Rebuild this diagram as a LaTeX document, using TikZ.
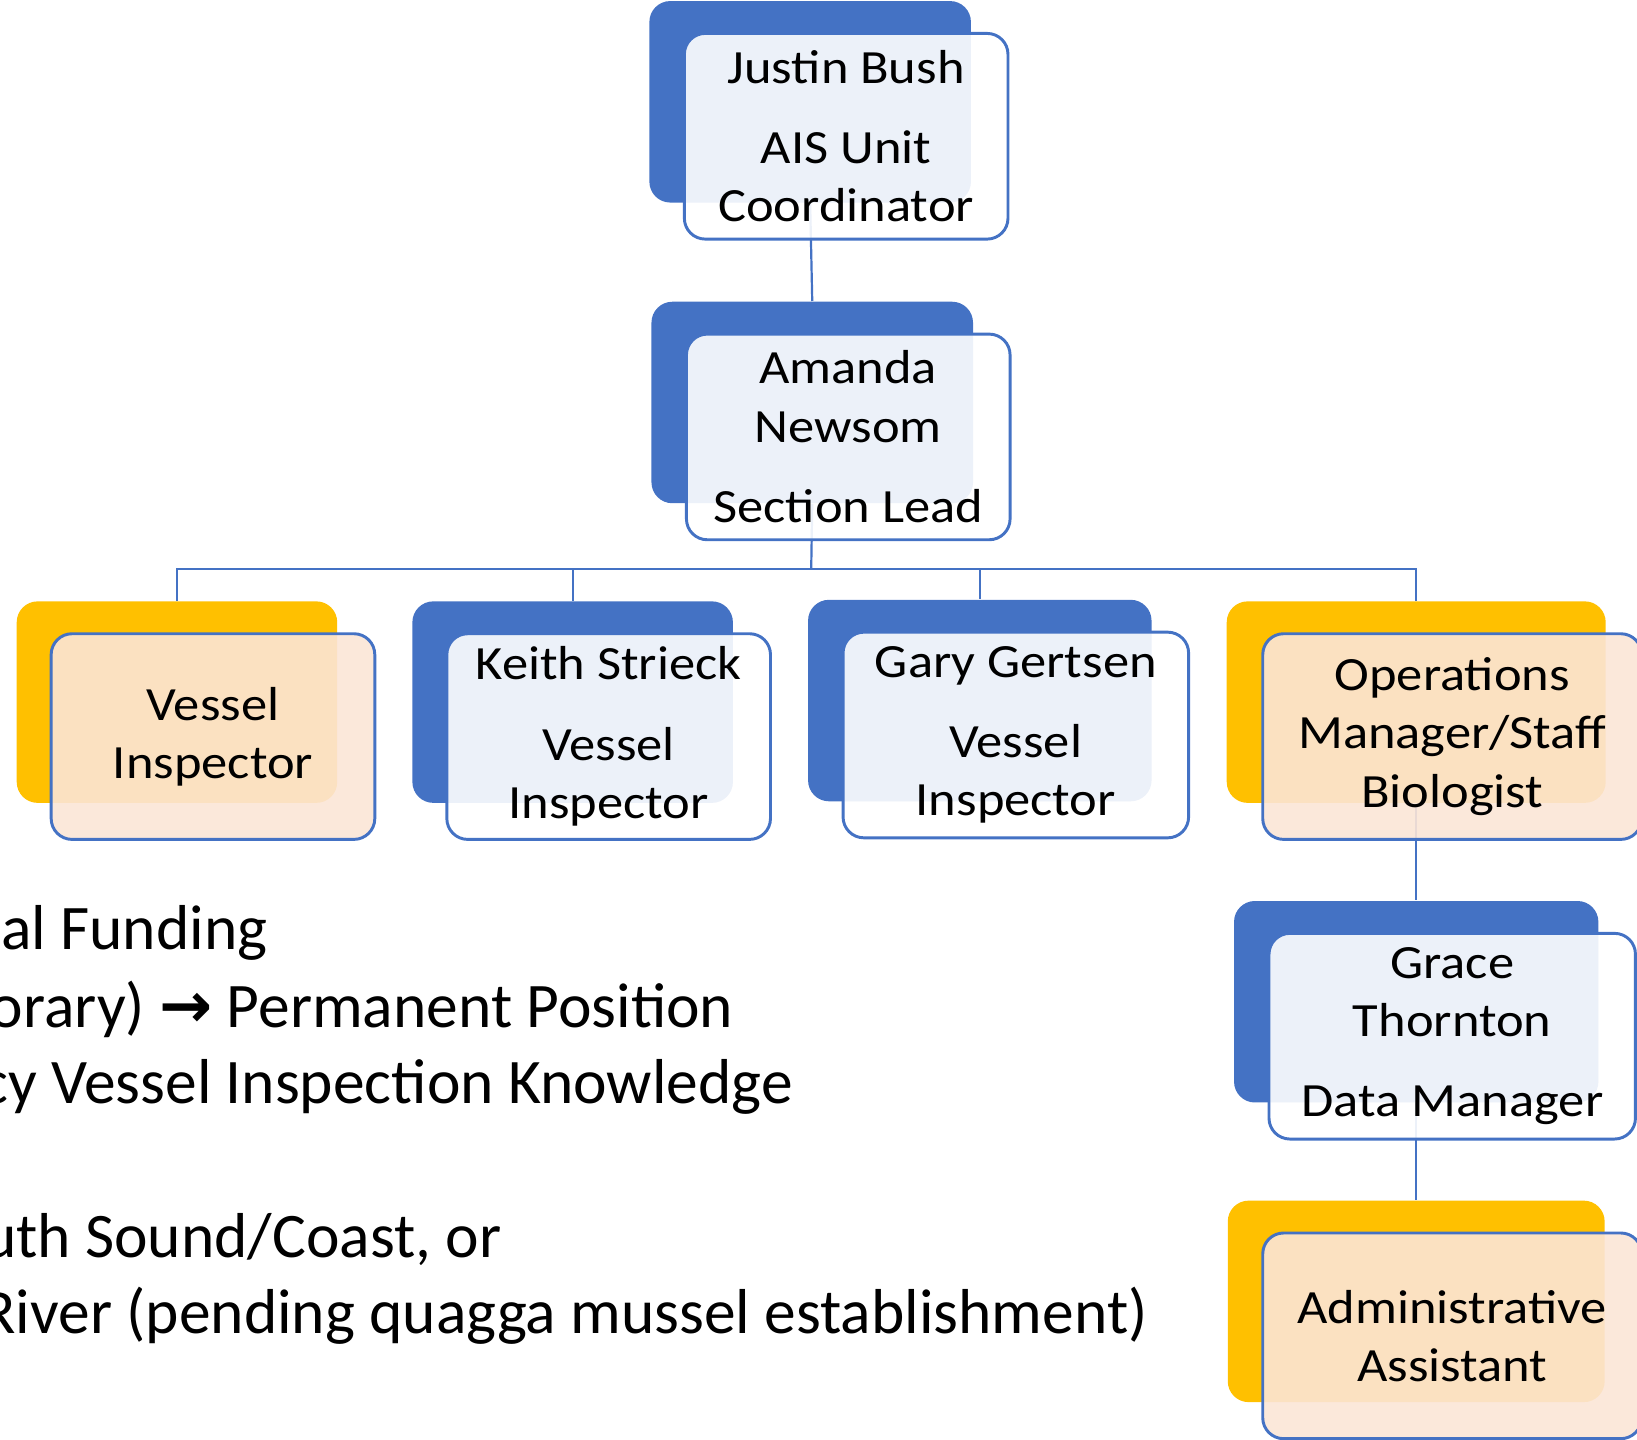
\documentclass[tikz,border=0pt]{standalone}
\usepackage{fontspec}
\newfontfamily\cardfont[FakeStretch=1.1]{Carlito}
\newfontfamily\notefont{Carlito}
\newfontfamily\arrowfont{DejaVu Sans}
\definecolor{accblue}{HTML}{4472C4}
\definecolor{accgold}{HTML}{FFC000}
\definecolor{peach}{HTML}{FBE5D6}

\begin{document}
\begin{tikzpicture}[
    blueback/.style={fill=accblue,rounded corners=0.2cm,inner sep=0,minimum height=1.93cm},
    goldback/.style={blueback,fill=accgold},
    bluecard/.style={draw=accblue,line width=0.8pt,fill=white,fill opacity=0.9,text opacity=1,
      rounded corners=0.2cm,inner sep=0,minimum height=1.97cm,align=center,
      font=\cardfont\fontsize{13}{15.9}\selectfont},
    goldcard/.style={bluecard,fill=peach},
    link/.style={draw=accblue,line width=0.6pt},
    note/.style={font=\notefont\fontsize{17.3}{21}\selectfont,inner sep=0,anchor=base east}]
\useasboundingbox (0,0) rectangle (15.68,-13.79);
\clip (0,0) rectangle (15.68,-13.79);
            % Backs
\node[blueback,minimum width=3.08cm] (justinB) at (7.76 ,-0.975) {};
\node[blueback,minimum width=3.08cm] (amandaB) at (7.78 ,-3.855) {};
\node[goldback,minimum width=3.07cm] (vesselB) at (1.695,-6.725) {};
\node[blueback,minimum width=3.07cm] (keithB)  at (5.485,-6.725) {};
\node[blueback,minimum width=3.29cm] (garyB)   at (9.385,-6.71 ) {};
\node[goldback,minimum width=3.63cm] (opsB)    at (13.565,-6.725) {};
\node[blueback,minimum width=3.49cm] (graceB)  at (13.565,-9.595) {};
\node[goldback,minimum width=3.61cm] (adminB)  at (13.565,-12.465) {};
%Links
\coordinate (bus) at (7.77,-5.45);
\draw[link] (justinB.south) -- (amandaB.north);
\draw[link] (amandaB.south) -- (bus);
\draw[link] (bus) -| (vesselB.north);
\draw[link] (bus) -| (keithB.north);
\draw[link] (bus) -| (garyB.north);
\draw[link] (bus) -| (opsB.north);
\draw[link] (opsB.south) -- (graceB.north);
\draw[link] (graceB.south) -- (adminB.north);
%Cards
\node[bluecard,minimum width=3.10cm] (justin) at ([shift={(0.345,-0.33)}]justinB.center) {Justin Bush\\[6pt]AIS Unit\\Coordinator};
\node[bluecard,minimum width=3.10cm] (amanda) at ([shift={(0.345,-0.33)}]amandaB.center) {Amanda\\Newsom\\[6pt]Section Lead};
\node[goldcard,minimum width=3.10cm] (vessel) at ([shift={(0.345,-0.33)}]vesselB.center) {Vessel\\Inspector};
\node[bluecard,minimum width=3.10cm] (keith)  at ([shift={(0.345,-0.33)}]keithB.center)  {Keith Strieck\\[6pt]Vessel\\Inspector};
\node[bluecard,minimum width=3.31cm] (gary)   at ([shift={(0.345,-0.33)}]garyB.center)   {Gary Gertsen\\[6pt]Vessel\\Inspector};
\node[goldcard,minimum width=3.63cm] (ops)    at ([shift={(0.345,-0.33)}]opsB.center)    {Operations\\Manager/Staff\\Biologist};
\node[bluecard,minimum width=3.51cm] (grace)  at ([shift={(0.345,-0.33)}]graceB.center)  {Grace\\Thornton\\[6pt]Data Manager};
\node[goldcard,minimum width=3.63cm] (admin)  at ([shift={(0.345,-0.33)}]adminB.center)  {Administrative\\Assistant};
%Notes
\node[note] (fund)  at (2.57 ,-9.09 ) {al Funding};
\node[note] (perm)  at (7.03 ,-9.84 ) {orary) {\arrowfont\bfseries →} Permanent Position};
\node[note] (know)  at (7.60 ,-10.57) {cy Vessel Inspection Knowledge};
\node[note] (coast) at (4.81 ,-12.04) {uth Sound/Coast, or};
\node[note] (river) at (11.00,-12.77) {River (pending quagga mussel establishment)};
\end{tikzpicture}
\end{document}
